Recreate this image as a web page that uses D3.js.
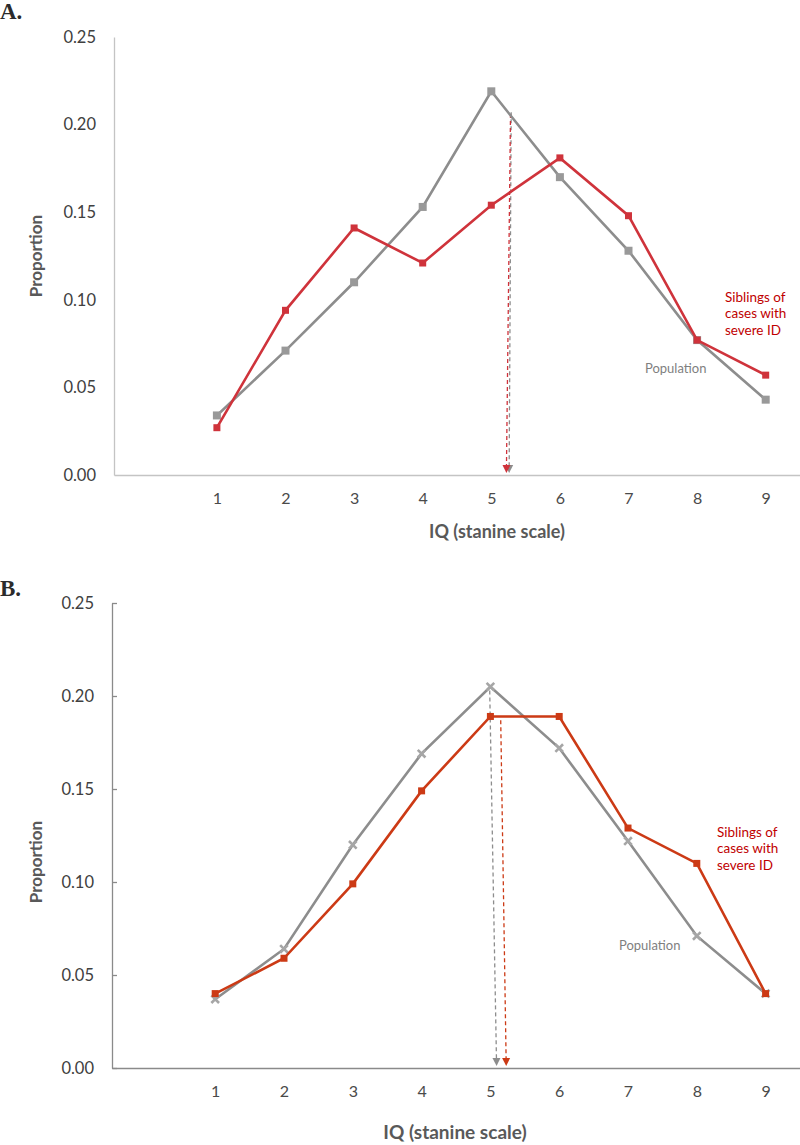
<!doctype html>
<html>
<head>
<meta charset="utf-8"/>
<title>IQ stanine proportions</title>
<script src="https://d3js.org/d3.v7.min.js"></script>
<style>
  body { margin: 0; background: #fff; }
  text { font-family: Lato, "Open Sans", sans-serif; }
</style>
</head>
<body>
<div id="chart"></div>
<script>
// stanine categories (slot 0 is left empty, as in the original)
var stanines = [1, 2, 3, 4, 5, 6, 7, 8, 9];
var yTicks = [0, 0.05, 0.10, 0.15, 0.20, 0.25];

// panel A
var popA = [0.034, 0.071, 0.110, 0.153, 0.219, 0.170, 0.128, 0.077, 0.043];
var sibA = [0.027, 0.094, 0.141, 0.121, 0.154, 0.181, 0.148, 0.077, 0.057];
// mean arrows: [x at top, x at bottom, value at top]
var arrowPopA = [5.29, 5.26, 0.207];
var arrowSibA = [5.28, 5.22, 0.206];

// panel B
var popB = [0.037, 0.064, 0.120, 0.169, 0.205, 0.172, 0.122, 0.071, 0.040];
var sibB = [0.040, 0.059, 0.099, 0.149, 0.189, 0.189, 0.129, 0.110, 0.040];
var arrowPopB = [4.99, 5.09, 0.203];
var arrowSibB = [5.15, 5.23, 0.187];

var labelSib = ["Siblings of", "cases with", "severe ID"];
var labelPop = "Population";

var grey = "#8d8d8d";
var txt = "#595959";

var svg = d3.select("#chart").append("svg")
  .attr("width", 800).attr("height", 1145);

function panel(o) {
  var g = svg.append("g");
  var x = d3.scaleLinear().domain([-0.5, 9.5]).range([o.left, 800]);
  var y = d3.scaleLinear().domain([0, 0.25]).range([o.bottom, o.top]);

  // y axis
  var ya = g.append("g").attr("transform", "translate(" + o.left + ",0)")
    .call(d3.axisLeft(y).tickValues(yTicks).tickFormat(d3.format(".2f"))
      .tickSizeInner(o.ticks ? -5 : 0).tickSizeOuter(0).tickPadding(18));
  ya.select(".domain").attr("stroke", o.axisColor).attr("stroke-width", 1.3);
  ya.selectAll(".tick line").attr("stroke", o.axisColor).attr("stroke-width", 1.3);
  ya.selectAll(".tick text").attr("fill", "#404040").style("font-size", "16.5px")
    .style("font-family", "Lato, sans-serif");

  // x axis
  var xa = g.append("g").attr("transform", "translate(0," + o.bottom + ")")
    .call(d3.axisBottom(x).tickValues(stanines).tickFormat(d3.format("d"))
      .tickSize(0).tickPadding(18));
  xa.select(".domain").attr("stroke", o.axisColor).attr("stroke-width", 1.3);
  xa.selectAll(".tick text").attr("fill", "#4a4a4a").style("font-size", "16px")
    .style("font-family", "Lato, sans-serif");

  // axis titles
  g.append("text")
    .attr("transform", "translate(36," + o.yTitle + ") rotate(-90)")
    .attr("text-anchor", "middle").attr("dy", "0.35em")
    .attr("fill", txt).style("font-weight", "bold").style("font-size", "17px")
    .text("Proportion");
  g.append("text")
    .attr("x", o.xTitleX).attr("y", o.xTitleY).attr("dy", "0.35em")
    .attr("text-anchor", "middle").attr("fill", txt)
    .style("font-weight", "bold").style("font-size", o.xTitleSize)
    .text("IQ (stanine scale)");

  // panel letter
  g.append("text").attr("x", 0).attr("y", o.letterY)
    .style("font-family", "'Liberation Serif', 'DejaVu Serif', serif")
    .style("font-weight", "bold").style("font-size", "23px").attr("fill", "#2b2b2b")
    .text(o.letter);

  // mean arrows
  function arrow(a, col) {
    var x1 = x(a[0]), y1 = y(a[2]), x2 = x(a[1]), y2 = y(0) - 2;
    var ang = Math.atan2(y2 - y1, x2 - x1);
    g.append("line")
      .attr("x1", x1).attr("y1", y1).attr("x2", x2 - 7 * Math.cos(ang)).attr("y2", y2 - 7 * Math.sin(ang))
      .attr("stroke", col).attr("stroke-width", 1.3).attr("stroke-dasharray", "4,3");
    var w = 4, h = 8;
    var bx = x2 - h * Math.cos(ang), by = y2 - h * Math.sin(ang);
    var px = -Math.sin(ang) * w, py = Math.cos(ang) * w;
    g.append("path")
      .attr("d", "M" + x2 + "," + y2 + "L" + (bx + px) + "," + (by + py) + "L" + (bx - px) + "," + (by - py) + "Z")
      .attr("fill", col);
  }
  arrow(o.arrowPop, grey);
  arrow(o.arrowSib, o.red);

  var line = d3.line().x(function (d, i) { return x(stanines[i]); })
    .y(function (d) { return y(d); });

  // population
  g.append("path").datum(o.pop).attr("d", line)
    .attr("fill", "none").attr("stroke", grey).attr("stroke-width", 2.6);
  if (o.popCross) {
    g.selectAll(".pm").data(o.pop).enter().append("path")
      .attr("transform", function (d, i) { return "translate(" + x(stanines[i]) + "," + y(d) + ")"; })
      .attr("d", d3.symbol(d3.symbolTimes, 40))
      .attr("fill", "none").attr("stroke", "#a6a6a6").attr("stroke-width", 2.6);
  } else {
    g.selectAll(".pm").data(o.pop).enter().append("rect")
      .attr("x", function (d, i) { return x(stanines[i]) - 4; })
      .attr("y", function (d) { return y(d) - 4; })
      .attr("width", 8).attr("height", 8).attr("fill", "#999");
  }

  // siblings
  g.append("path").datum(o.sib).attr("d", line)
    .attr("fill", "none").attr("stroke", o.red).attr("stroke-width", 2.6);
  g.selectAll(".sm").data(o.sib).enter().append("rect")
    .attr("x", function (d, i) { return x(stanines[i]) - 3.5; })
    .attr("y", function (d) { return y(d) - 3.5; })
    .attr("width", 7).attr("height", 7).attr("fill", o.red);

  // labels
  var t = g.append("text").attr("x", o.sibLabel[0]).attr("y", o.sibLabel[1])
    .attr("fill", "#c00000").style("font-size", "13.5px");
  labelSib.forEach(function (s, i) {
    t.append("tspan").attr("x", o.sibLabel[0]).attr("dy", i === 0 ? "0.35em" : "16.5px").text(s);
  });
  g.append("text").attr("x", o.popLabel[0]).attr("y", o.popLabel[1]).attr("dy", "0.35em")
    .attr("fill", "#7f7f7f").style("font-size", "13px").text(labelPop);
}

panel({
  letter: "A.", letterY: 19,
  left: 114, top: 37, bottom: 475, ticks: false, axisColor: "#c4c4c4",
  pop: popA, sib: sibA, red: "#cf333b", popCross: false,
  arrowPop: arrowPopA, arrowSib: arrowSibA,
  yTitle: 256, xTitleX: 497, xTitleY: 532, xTitleSize: "18px",
  sibLabel: [725, 297], popLabel: [645, 368]
});

panel({
  letter: "B.", letterY: 596,
  left: 112, top: 603, bottom: 1068, ticks: true, axisColor: "#8a8a8a",
  pop: popB, sib: sibB, red: "#cc3a15", popCross: true,
  arrowPop: arrowPopB, arrowSib: arrowSibB,
  yTitle: 862, xTitleX: 455, xTitleY: 1132, xTitleSize: "19px",
  sibLabel: [717, 832], popLabel: [619, 945]
});
</script>
</body>
</html>
